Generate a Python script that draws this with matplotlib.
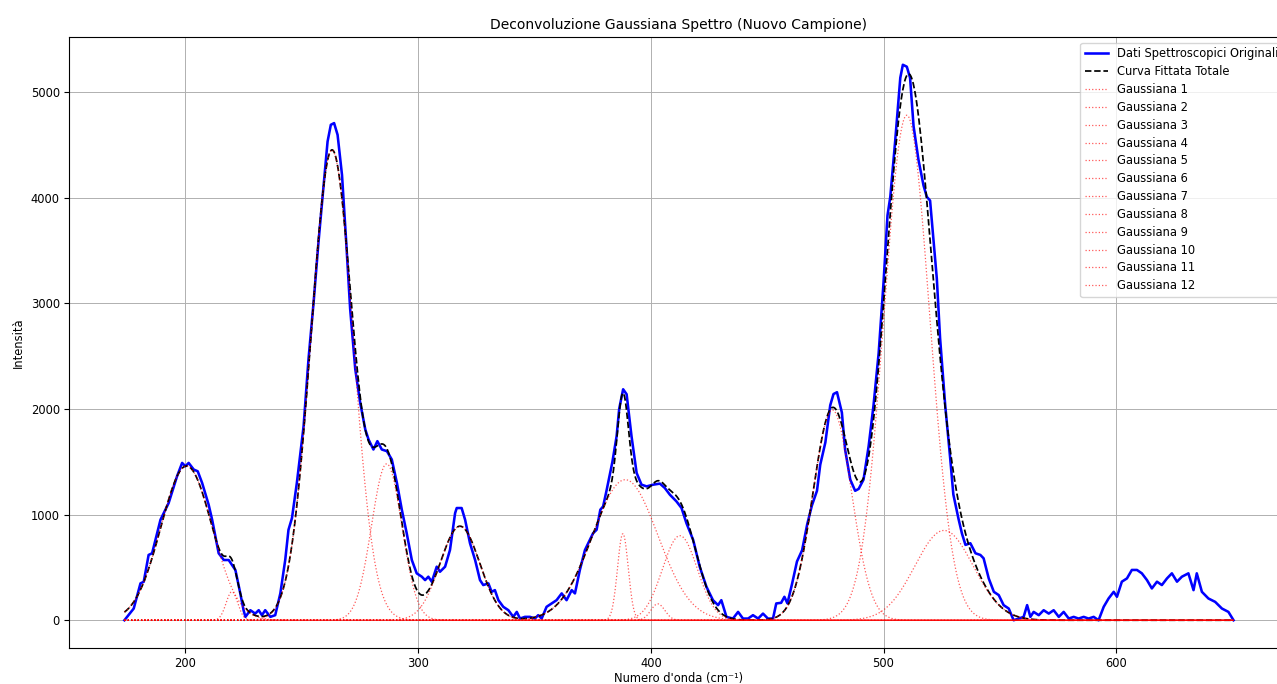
import numpy as np
import matplotlib
matplotlib.use("Agg")
import matplotlib.pyplot as plt

# spettro originale
wavenumber = [
    173.8, 177.8, 180.7, 182.1, 184.2, 185.7, 189.3, 192.8, 196.4, 198.6,
    200.0, 201.4, 203.6, 205.3, 207.2, 210.0, 211.5, 214.3, 216.5, 218.6,
    221.5, 223.6, 225.0, 225.8, 227.9, 230.0, 231.5, 232.9, 234.3, 236.5,
    238.6, 240.8, 242.9, 244.3, 245.8, 247.9, 250.8, 252.9, 255.1, 257.2,
    259.4, 261.1, 262.5, 263.9, 265.4, 267.3, 269.1, 270.8, 273.0, 275.1,
    277.3, 278.7, 280.8, 282.5, 284.4, 286.6, 288.7, 290.9, 293.0, 295.1,
    297.3, 299.4, 301.6, 303.0, 304.4, 305.9, 308.0, 309.4, 311.6, 313.7,
    315.9, 316.6, 318.7, 320.2, 322.3, 324.5, 326.6, 328.0, 330.2, 331.6,
    333.0, 334.5, 336.6, 338.8, 340.9, 342.4, 343.8, 345.9, 348.1, 350.2,
    351.6, 353.1, 355.2, 357.4, 359.5, 361.7, 363.8, 366.0, 367.4, 369.5,
    371.7, 373.8, 375.2, 376.7, 378.3, 379.5, 381.0, 383.5, 385.3, 386.4,
    388.1, 389.6, 391.7, 393.9, 396.0, 398.2, 401.0, 403.9, 406.0, 408.2,
    411.0, 413.2, 415.3, 418.2, 421.0, 423.9, 426.7, 428.9, 430.3, 432.5,
    435.3, 437.5, 439.6, 441.8, 443.9, 446.1, 448.2, 450.3, 452.5, 453.9,
    456.0, 457.4, 458.7, 460.7, 462.8, 465.0, 467.2, 469.2, 471.4, 472.8,
    475.0, 477.1, 478.5, 480.0, 482.1, 483.5, 485.7, 487.8, 489.3, 491.4,
    493.6, 495.7, 497.9, 500.0, 501.7, 502.9, 505.0, 507.2, 508.3, 510.0,
    511.4, 512.9, 515.0, 517.2, 518.6, 520.0, 521.5, 522.9, 524.3, 526.5,
    528.6, 530.0, 532.2, 533.7, 535.2, 537.3, 539.5, 541.6, 543.0, 545.2,
    547.4, 549.5, 551.6, 553.8, 555.9, 558.1, 560.2, 561.7, 563.1, 564.5,
    566.7, 568.8, 571.0, 573.1, 575.3, 577.4, 579.6, 581.7, 583.8, 586.0,
    588.1, 590.3, 592.4, 594.6, 596.7, 598.9, 600.3, 602.4, 604.6, 606.7,
    608.9, 611.0, 613.2, 615.3, 617.5, 619.6, 621.8, 623.9, 626.1, 628.2,
    631.0, 633.2, 634.6, 636.8, 639.6, 642.5, 645.4, 648.2, 650.4,
]
intensity = [
    0, 111, 349, 364, 618, 634, 951, 1109, 1362, 1489,
    1457, 1489, 1426, 1410, 1299, 1093, 951, 634, 570, 570,
    475, 254, 95, 32, 95, 63, 95, 48, 95, 32,
    48, 254, 570, 856, 967, 1300, 1838, 2471, 3010, 3581,
    4119, 4531, 4689, 4705, 4594, 4214, 3581, 2947, 2376, 2060,
    1806, 1711, 1616, 1695, 1616, 1600, 1521, 1299, 1046, 824,
    570, 444, 412, 380, 412, 364, 507, 459, 507, 665,
    1014, 1062, 1062, 951, 729, 570, 380, 333, 349, 269,
    285, 190, 127, 95, 32, 79, 16, 32, 32, 16,
    48, 16, 127, 159, 190, 254, 190, 285, 254, 475,
    665, 760, 824, 856, 1046, 1077, 1230, 1500, 1742, 2000,
    2186, 2139, 1742, 1394, 1283, 1267, 1283, 1293, 1252, 1188,
    1125, 1062, 919, 760, 507, 317, 190, 143, 190, 32,
    16, 79, 16, 16, 48, 16, 63, 16, 16, 159,
    165, 222, 160, 345, 556, 662, 908, 1085, 1225, 1472,
    1683, 2035, 2141, 2158, 1965, 1613, 1331, 1225, 1243, 1331,
    1648, 2035, 2528, 3197, 3831, 4007, 4535, 5134, 5257, 5239,
    5134, 4676, 4359, 4113, 4007, 3972, 3585, 3232, 2669, 2035,
    1542, 1190, 961, 820, 713, 729, 634, 618, 586, 396,
    269, 238, 143, 111, 0, 16, 32, 143, 32, 79,
    48, 95, 63, 95, 32, 79, 16, 32, 16, 32,
    16, 32, 0, 127, 206, 269, 222, 365, 396, 476,
    476, 444, 380, 301, 365, 333, 396, 444, 365, 412,
    444, 285, 444, 269, 206, 174, 111, 79, 0,
]

# parametri delle 12 gaussiane (centro, ampiezza, sigma)
centers = [200.5, 220.0, 263.0, 286.5, 318.0, 389.0, 388.0, 403.0, 412.5, 478.0, 510.0, 526.0]
amplitudes = [1460, 270, 4450, 1480, 890, 1330, 820, 155, 800, 1990, 4780, 850]
sigmas = [11.0, 2.5, 9.0, 6.5, 8.5, 14.0, 2.3, 3.0, 7.5, 8.3, 9.8, 12.5]


def gaussian(x, amp, cen, sig):
    return amp * np.exp(-(x - cen) ** 2 / (2 * sig ** 2))


x_fit = np.linspace(wavenumber[0], wavenumber[-1], 1500)
components = [gaussian(x_fit, a, c, s) for a, c, s in zip(amplitudes, centers, sigmas)]
total = np.sum(components, axis=0)

fig = plt.figure(figsize=(12.77, 6.84), dpi=100)
ax = fig.add_axes([0.054, 0.0526, 0.9554, 0.8933])

ax.plot(wavenumber, intensity, color='blue', lw=1.85, label='Dati Spettroscopici Originali')
ax.plot(x_fit, total, color='black', ls='--', lw=1.25, label='Curva Fittata Totale')
for i, comp in enumerate(components):
    ax.plot(x_fit, comp, color='red', ls=':', lw=0.9, alpha=0.65, label=f'Gaussiana {i + 1}')

ax.set_title('Deconvoluzione Gaussiana Spettro (Nuovo Campione)', fontsize=10)
ax.set_xlabel("Numero d'onda (cm⁻¹)", fontsize=8.3, labelpad=1.5)
ax.set_ylabel('Intensità', fontsize=8.3)
ax.tick_params(labelsize=8.3, pad=3)
ax.grid(True, lw=0.7)
ax.legend(loc='upper right', fontsize=8.3, labelspacing=0.42)

fig.savefig('out.png', dpi=100)
